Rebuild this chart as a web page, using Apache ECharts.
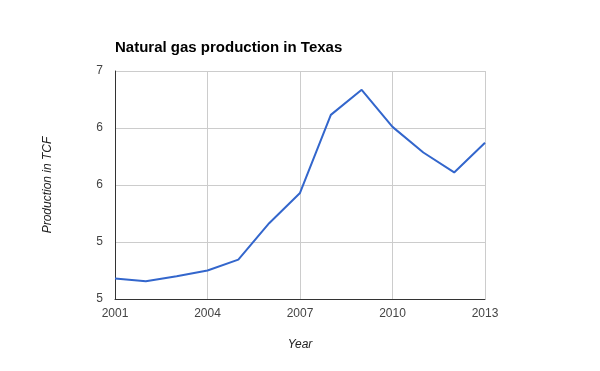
<!DOCTYPE html>
<html><head><meta charset="utf-8">
<script src="https://cdn.jsdelivr.net/npm/echarts@6/dist/echarts.min.js"></script>
<style>html,body{margin:0;padding:0;background:#fff}#c{width:600px;height:371px}</style>
</head><body><div id="c"></div>
<script>
var years = [2001,2002,2003,2004,2005,2006,2007,2008,2009,2010,2011,2012,2013];
var production = [5.18,5.155,5.20,5.25,5.345,5.665,5.93,6.615,6.835,6.51,6.285,6.11,6.37];
var yTickLabels = ["5","5","6","6","7"];
var xTickLabels = ["2001","2004","2007","2010","2013"];

var chart = echarts.init(document.getElementById('c'));
chart.setOption({
  animation:false,
  title:{text:'Natural gas production in Texas',left:110,top:35,textStyle:{fontFamily:'Liberation Sans, Arial',fontSize:15,fontWeight:'bold',color:'#000'}},
  grid:{left:115,right:115,top:71,bottom:72},
  xAxis:{type:'value',min:2001,max:2013,interval:3,
    name:'Year',nameLocation:'middle',nameGap:40,
    nameTextStyle:{fontFamily:'Liberation Sans, Arial',fontStyle:'italic',fontSize:12,color:'#222'},
    axisLine:{lineStyle:{color:'#333',width:1}},axisTick:{show:false},
    axisLabel:{margin:9,fontFamily:'Liberation Sans, Arial',fontSize:12,color:'#444',
      formatter:function(v){var i=Math.round((v-2001)/3);return xTickLabels[i]!==undefined?xTickLabels[i]:'';}},
    splitLine:{show:true,lineStyle:{color:'#ccc',width:1}}},
  yAxis:{type:'value',min:5,max:7,interval:0.5,
    name:'Production in TCF',nameLocation:'middle',nameGap:61,nameRotate:90,
    nameTextStyle:{fontFamily:'Liberation Sans, Arial',fontStyle:'italic',fontSize:12,color:'#222'},
    axisLine:{show:true,lineStyle:{color:'#333',width:1}},axisTick:{show:false},
    axisLabel:{margin:12,fontFamily:'Liberation Sans, Arial',fontSize:12,color:'#444',
      formatter:function(v){var i=Math.round((v-5)/0.5);return yTickLabels[i]!==undefined?yTickLabels[i]:'';}},
    splitLine:{show:true,lineStyle:{color:'#ccc',width:1}}},
  series:[{type:'line',data:years.map(function(y,i){return [y,production[i]];}),
    showSymbol:false,symbol:'none',lineStyle:{color:'#3366cc',width:2},itemStyle:{color:'#3366cc'}}]
});
</script></body></html>
